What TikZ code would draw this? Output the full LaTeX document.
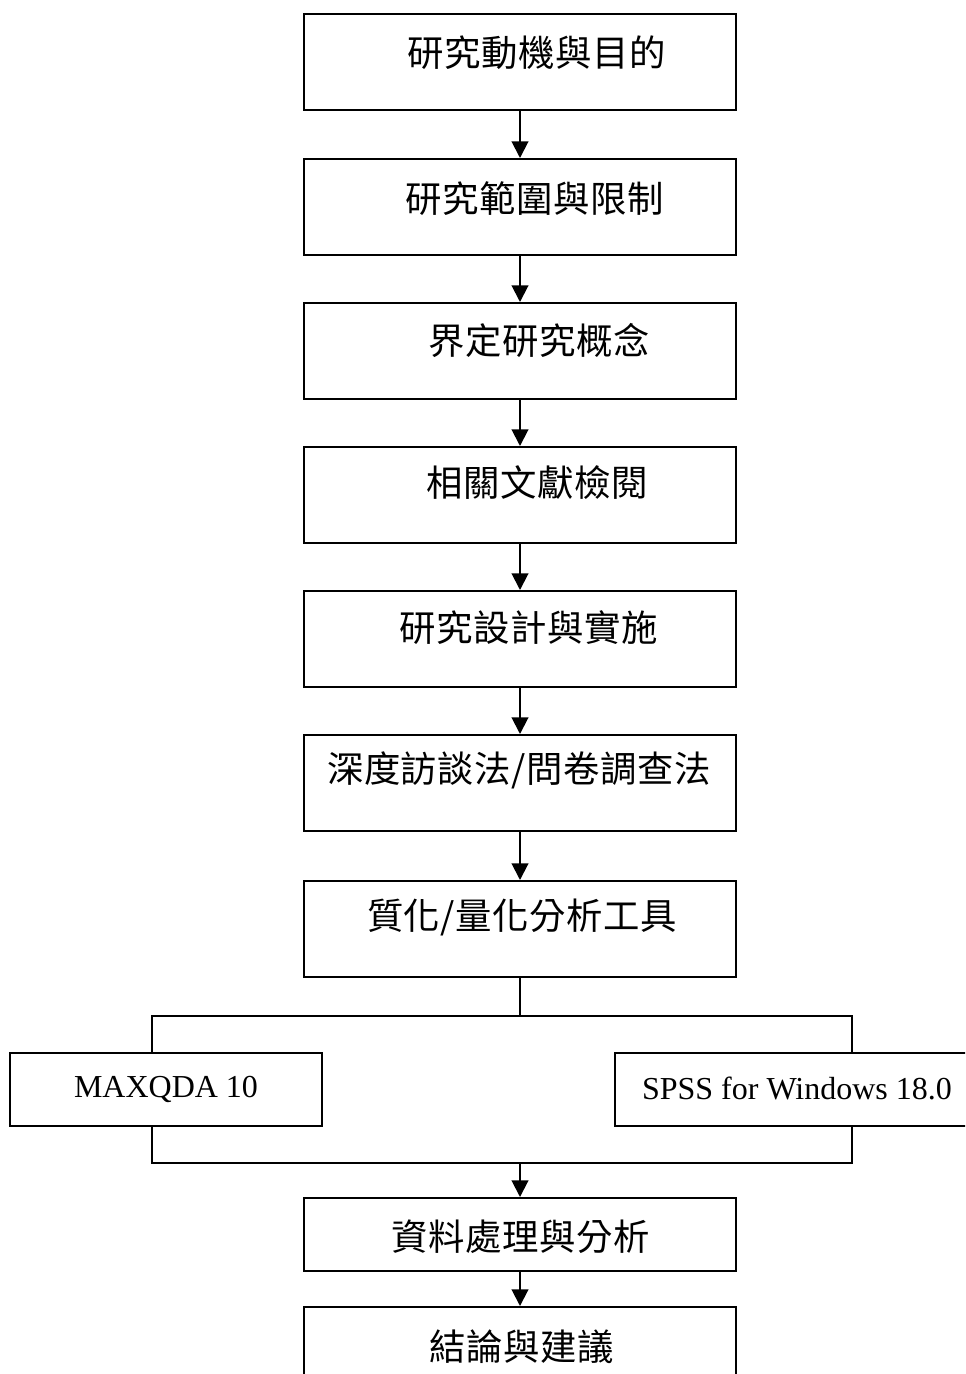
\documentclass[tikz,border=0pt]{standalone}
\usepackage{fontspec}
\setmainfont{Liberation Serif}
\newfontfamily\cjk[LetterSpace=1.5]{Noto Sans CJK TC}
\usetikzlibrary{arrows.meta}

\tikzset{
  stepbox/.style={draw, line width=1.5pt, inner sep=0pt,
    minimum width=324pt, minimum height=72pt},
  lastbox/.style={stepbox, minimum height=54.75pt},
  toolbox/.style={draw, line width=1.3pt, inner sep=0pt,
    minimum height=54.75pt, font=\fontsize{24pt}{28pt}\selectfont},
  caption/.style={inner sep=0pt, font=\cjk\fontsize{27.3pt}{31pt}\selectfont},
  flow/.style={line width=1.5pt, -{Triangle[length=12.5pt,width=12.5pt]}},
  branch/.style={line width=1.2pt},
}

\begin{document}
\begin{tikzpicture}[x=0.75pt, y=-0.75pt]
  \useasboundingbox (0,0) rectangle (965,1374);
  \clip (0,0) rectangle (965,1374);
  \fill[white] (0,0) rectangle (965,1374);

  % main column of steps
  \node[stepbox] (b1) at (520,62)  {};
  \node[stepbox] (b2) at (520,207) {};
  \node[stepbox] (b3) at (520,351) {};
  \node[stepbox] (b4) at (520,495) {};
  \node[stepbox] (b5) at (520,639) {};
  \node[stepbox] (b6) at (520,783) {};
  \node[stepbox] (b7) at (520,929) {};
  \node[lastbox] (b8) at (520,1234.5) {};
  \node[stepbox, minimum height=75pt] (b9) at (520,1357) {};

  \node[caption] (t1) at (537,53)   {研究動機與目的};
  \node[caption] (t2) at (535,199)  {研究範圍與限制};
  \node[caption] (t3) at (539,340)  {界定研究概念};
  \node[caption] (t4) at (537,483)  {相關文獻檢閱};
  \node[caption] (t5) at (529,628)  {研究設計與實施};
  \node[caption] (t6) at (519,770)  {深度訪談法/問卷調查法};
  \node[caption] (t7) at (522,917)  {質化/量化分析工具};
  \node[caption] (t8) at (521,1237) {資料處理與分析};
  \node[caption] (t9) at (522,1347) {結論與建議};

  % analysis tools
  \node[toolbox, minimum width=234pt] (mx) at (166,1089.5) {MAXQDA 10};
  \node[toolbox, minimum width=273.75pt] (sp) at (797.5,1089.5) {};
  \node[inner sep=0pt, font=\fontsize{24pt}{28pt}\selectfont] (spt) at (797,1088) {SPSS for Windows 18.0};

  % arrows between steps
  \draw[flow] (b1) -- (b2);
  \draw[flow] (b2) -- (b3);
  \draw[flow] (b3) -- (b4);
  \draw[flow] (b4) -- (b5);
  \draw[flow] (b5) -- (b6);
  \draw[flow] (b6) -- (b7);

  % split into the two tools
  \coordinate (j1) at (520,1016);
  \coordinate (jl) at (152,1016);
  \coordinate (jr) at (852,1016);
  \draw[line width=1pt] (b7) -- (j1);
  \draw[branch] (jl |- mx.north) -- (jl) -- (jr) -- (jr |- sp.north);

  % merge back
  \coordinate (kl) at (152,1163);
  \coordinate (kr) at (852,1163);
  \coordinate (k1) at (520,1163);
  \draw[branch] (kl |- mx.south) -- (kl) -- (kr) -- (kr |- sp.south);
  \draw[flow] (k1) -- (b8);
  \draw[flow] (b8) -- (b9);
\end{tikzpicture}
\end{document}
